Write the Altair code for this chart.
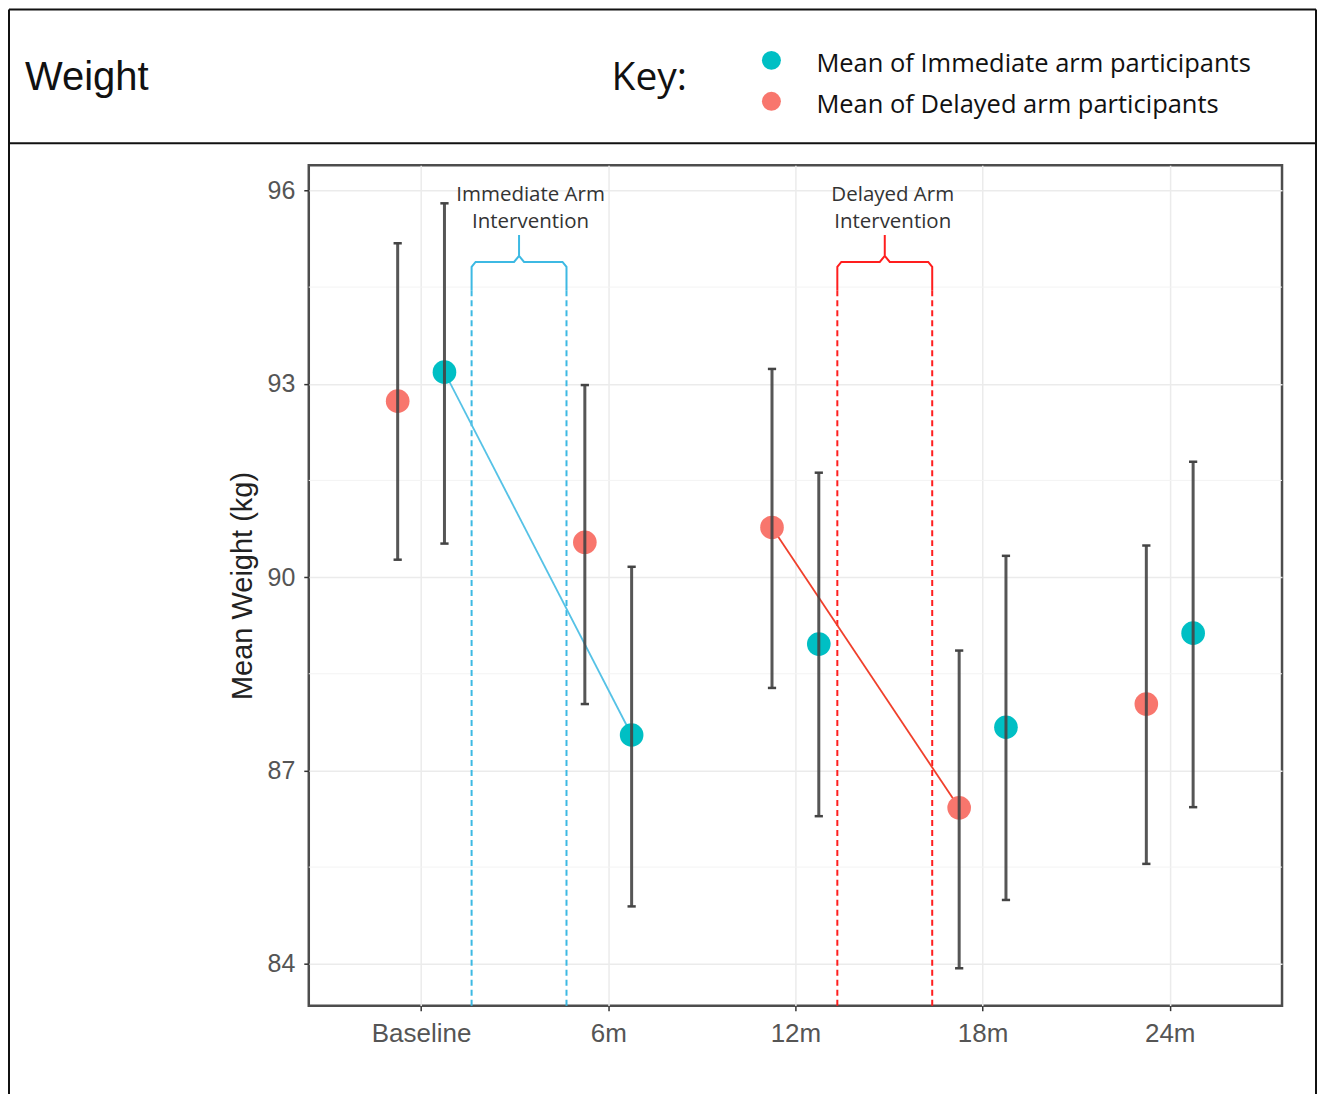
import json
import altair as alt
import pandas as pd

# ---------------- data ----------------
timepoints = ["Baseline", "6m", "12m", "18m", "24m"]
immediate_mean = [93.18, 87.55, 88.96, 87.67, 89.13]
immediate_lo = [90.52, 84.89, 86.29, 84.99, 86.43]
immediate_hi = [95.80, 90.16, 91.62, 90.33, 91.79]
delayed_mean = [92.73, 90.54, 90.77, 86.42, 88.03]
delayed_lo = [90.27, 88.03, 88.28, 83.93, 85.55]
delayed_hi = [95.18, 92.98, 93.23, 88.86, 90.49]

groups = ["Immediate", "Delayed"]
group_colors = ["#00BFC4", "#F8766D"]
legend_labels = ["Mean of Immediate arm participants", "Mean of Delayed arm participants"]

intervention_labels = ["Immediate Arm\nIntervention", "Delayed Arm\nIntervention"]
intervention_label_x = [1.585, 3.52]
intervention_label_y = [95.925, 95.925]
intervention_start = [1.27, 3.224]
intervention_end = [1.777, 3.731]
intervention_segments = [["Baseline", "6m"], ["12m", "18m"]]
intervention_colors = ["#3DB9E3", "#FF1E1E"]
trend_colors = ["#56C2E6", "#F0402C"]

y_ticks = [84, 87, 90, 93, 96]
y_minor = [85.5, 88.5, 91.5, 94.5]

# ---------------- layout ----------------
W, H = 974, 841
PAD_L, PAD_T, PAD_R, PAD_B = 301, 157, 36, 88
X_DOM = [0.4, 5.6]
Y_DOM = [83.35, 96.39]
PX_X = (X_DOM[1] - X_DOM[0]) / W
PX_Y = (Y_DOM[1] - Y_DOM[0]) / H
DODGE = {"Immediate": 0.125, "Delayed": -0.125}
FONT = "Liberation Sans"

rows = []
for g, means, los, his in [("Immediate", immediate_mean, immediate_lo, immediate_hi),
                           ("Delayed", delayed_mean, delayed_lo, delayed_hi)]:
    for i, t in enumerate(timepoints):
        rows.append(dict(group=g, time=t, x=i + 1 + DODGE[g], mean=means[i], lo=los[i], hi=his[i]))
df = pd.DataFrame(rows)

xs = alt.Scale(domain=X_DOM, nice=False, zero=False)
ys = alt.Scale(domain=Y_DOM, nice=False, zero=False)
col = alt.Scale(domain=groups, range=group_colors)

label_expr = json.dumps(timepoints) + "[datum.value - 1]"

XAX = alt.Axis(values=[1, 2, 3, 4, 5], labelExpr=label_expr, title=None,
               grid=True, gridColor="#EBEBEB", gridWidth=1.5,
               domain=False, tickColor="#333333", tickSize=5, tickWidth=1.5,
               labelFontSize=26, labelColor="#555555", labelPadding=10, labelFont=FONT)
YAX = alt.Axis(values=y_ticks, title="Mean Weight (kg)",
               grid=True, gridColor="#EBEBEB", gridWidth=1.5,
               domain=False, tickColor="#333333", tickSize=5, tickWidth=1.5,
               labelFontSize=25, labelColor="#555555", labelPadding=9,
               labelFont=FONT, titleFont=FONT, titleFontSize=29,
               titleFontWeight="normal", titleColor="#222222", titlePadding=10)

def X(f):
    return alt.X(f, scale=xs, axis=XAX, title=None)
def Y(f):
    return alt.Y(f, scale=ys, axis=YAX, title="Mean Weight (kg)")

# minor grid
minor = alt.Chart(pd.DataFrame({"v": y_minor})).mark_rule(color="#F3F3F3", strokeWidth=1).encode(
    y=Y("v:Q")
)

# intervention dashed lines and braces
dash_rows, brace_rows = [], []
brace_top, brace_peak, dash_top = 94.89, 95.31, 94.45
for k in range(2):
    x1, x2 = intervention_start[k], intervention_end[k]
    xc = (x1 + x2) / 2
    for xv in (x1, x2):
        dash_rows.append(dict(x=xv, y=dash_top, y2=Y_DOM[0], c=intervention_colors[k]))
    pts = [(x1, dash_top), (x1, brace_top - 5 * PX_Y), (x1 + 4 * PX_X, brace_top),
           (xc - 5 * PX_X, brace_top), (xc, brace_top + 6 * PX_Y), (xc, brace_peak),
           (xc, brace_top + 6 * PX_Y), (xc + 5 * PX_X, brace_top), (x2 - 4 * PX_X, brace_top),
           (x2, brace_top - 5 * PX_Y), (x2, dash_top)]
    for j, (bx, by) in enumerate(pts):
        brace_rows.append(dict(id=k, o=j, x=bx, y=by, c=intervention_colors[k]))

dashes = alt.Chart(pd.DataFrame(dash_rows)).mark_rule(strokeWidth=2, strokeDash=[6, 4]).encode(
    x=X("x:Q"), y=Y("y:Q"), y2="y2:Q",
    color=alt.Color("c:N", scale=None),
)
braces = alt.Chart(pd.DataFrame(brace_rows)).mark_line(strokeWidth=2).encode(
    x=X("x:Q"), y=Y("y:Q"),
    order="o:Q", detail="id:N", color=alt.Color("c:N", scale=None),
)

ann = pd.DataFrame({"t": intervention_labels, "x": intervention_label_x, "y": intervention_label_y})
ann_text = alt.Chart(ann).mark_text(font="Open Sans", fontSize=20.5, color="#333333", lineBreak="\n",
                                    lineHeight=27, baseline="middle", align="center").encode(
    x=X("x:Q"), y=Y("y:Q"), text="t:N"
)

# trend lines
trend_rows = []
for k, g in enumerate(groups):
    for t in intervention_segments[k]:
        r = df[(df.group == g) & (df.time == t)].iloc[0]
        trend_rows.append(dict(id=k, x=r.x, y=r["mean"], c=trend_colors[k]))
trend = alt.Chart(pd.DataFrame(trend_rows)).mark_line(strokeWidth=1.8).encode(
    x=X("x:Q"), y=Y("y:Q"),
    detail="id:N", color=alt.Color("c:N", scale=None),
)

points = alt.Chart(df).mark_circle(size=560, opacity=1).encode(
    x=X("x:Q"), y=Y("mean:Q"),
    color=alt.Color("group:N", scale=col, legend=None),
)
bars = alt.Chart(df).mark_rule(color="#444444", strokeWidth=3, opacity=0.9).encode(
    x=X("x:Q"), y=Y("lo:Q"), y2="hi:Q",
)
caps = alt.Chart(df).transform_fold(["lo", "hi"], as_=["k", "v"]).transform_calculate(
    xa="datum.x - 0.022", xb="datum.x + 0.022"
).mark_rule(color="#444444", strokeWidth=2.5).encode(
    x=X("xa:Q"), x2="xb:Q", y=Y("v:Q"),
)

# ---------------- header / frame (pixel space relative to plot origin) ----------------
one = pd.DataFrame({"a": [0]})
def hrule(x1, x2, y):
    return alt.Chart(one).mark_rule(color="#111111", strokeWidth=2).encode(
        x=alt.value(x1), x2=alt.value(x2), y=alt.value(y))
def vrule(x, y1, y2):
    return alt.Chart(one).mark_rule(color="#111111", strokeWidth=2).encode(
        x=alt.value(x), y=alt.value(y1), y2=alt.value(y2))

frame = [
    hrule(-300, 1008, -156),
    hrule(-300, 1008, -22),
    vrule(-300, -156, 950),
    vrule(1008, -156, 950),
]

title_txt = alt.Chart(pd.DataFrame({"t": ["Weight"]})).mark_text(
    font=FONT, fontSize=40, align="left", baseline="alphabetic", color="#111111").encode(
    x=alt.value(-284), y=alt.value(-75), text="t:N")
key_txt = alt.Chart(pd.DataFrame({"t": ["Key:"]})).mark_text(
    font="Open Sans", fontSize=39, align="left", baseline="alphabetic", color="#111111").encode(
    x=alt.value(303), y=alt.value(-75), text="t:N")

leg = pd.DataFrame({"g": groups, "t": legend_labels, "py": [-105, -64]})
leg_dots = alt.Chart(leg).mark_circle(size=360, opacity=1).encode(
    x=alt.value(463), y=alt.Y("py:Q", scale=None),
    color=alt.Color("g:N", scale=col, legend=None))
leg_txt = alt.Chart(leg).mark_text(font="Open Sans", fontSize=25.5, align="left", baseline="middle",
                                   color="#111111").encode(
    x=alt.value(508), y=alt.Y("py:Q", scale=None), yOffset=alt.value(4), text="t:N")

chart = alt.layer(
    minor, dashes, braces, ann_text, trend, points, bars, caps,
    *frame, title_txt, key_txt, leg_dots, leg_txt,
).properties(
    width=W, height=H,
    autosize=alt.AutoSizeParams(type="none"),
    padding={"left": PAD_L, "top": PAD_T, "right": PAD_R, "bottom": PAD_B},
    background="white",
).configure_view(stroke="#4D4D4D", strokeWidth=2.5)

chart.save("out.html", embed_options={"renderer": "svg", "actions": False})
